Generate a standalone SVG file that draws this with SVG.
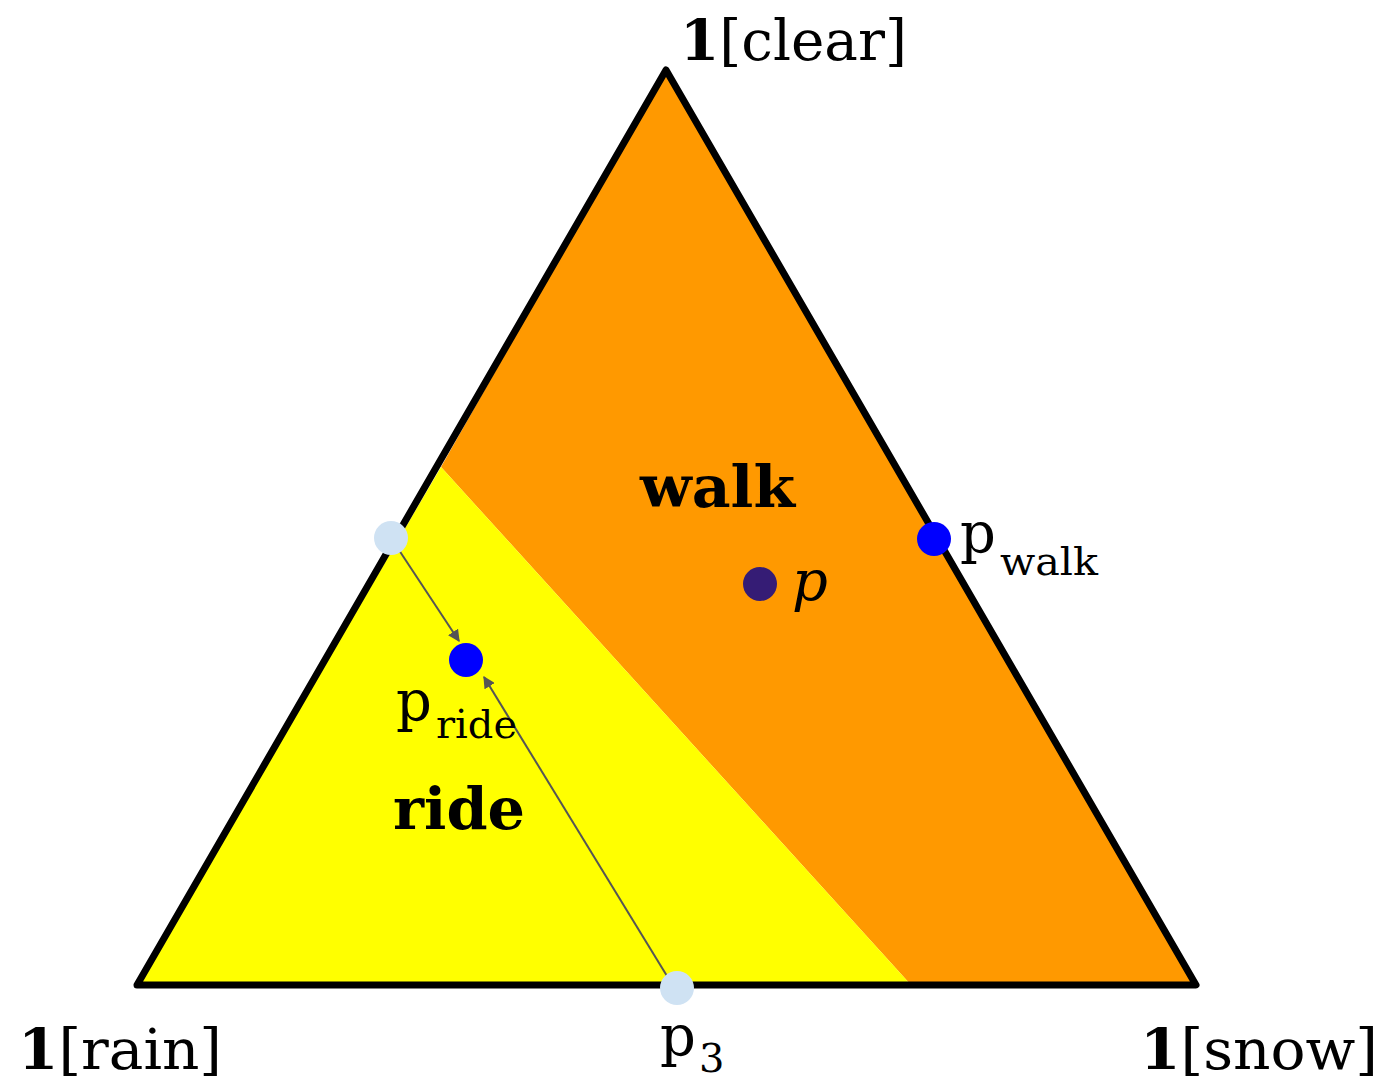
<svg xmlns="http://www.w3.org/2000/svg" width="1386" height="1084" viewBox="0 0 1386 1084">
<style>
text{font-family:"DejaVu Serif","Liberation Serif",serif;fill:#000}
.lab{font-size:56px}
.b{font-weight:bold}
.big{font-size:58px;font-weight:bold}
.sub{font-size:40px}
.pt{stroke:none}
.conn{stroke:#555;stroke-width:2;fill:none;marker-end:url(#ah)}
</style>
<defs>
<marker id="ah" viewBox="0 0 10 10" refX="9" refY="5" markerWidth="6" markerHeight="6" orient="auto" markerUnits="strokeWidth">
<path d="M0,0 L10,5 L0,10 z" fill="#555"/>
</marker>
</defs>
<g id="regions">
<polygon id="walk-region" points="666,70 1196,985 911,985 441,467" fill="#ff9900"/>
<polygon id="ride-region" points="441,467 911,985 137,985" fill="#ffff00"/>
</g>
<g id="simplex">
<polygon points="666,70 1196,985 137,985" fill="none" stroke="#000" stroke-width="7" stroke-linejoin="round"/>
</g>
<g id="connectors">
<line class="conn" x1="393" y1="541" x2="459" y2="641"/>
<line class="conn" x1="667" y1="976" x2="484" y2="677"/>
</g>
<g id="node-clear"><text class="lab" x="680" y="60" textLength="227" lengthAdjust="spacingAndGlyphs"><tspan class="b">1</tspan>[clear]</text></g>
<g id="node-rain"><text class="lab" x="18" y="1069" textLength="204" lengthAdjust="spacingAndGlyphs"><tspan class="b">1</tspan>[rain]</text></g>
<g id="node-snow"><text class="lab" x="1140" y="1069" textLength="238" lengthAdjust="spacingAndGlyphs"><tspan class="b">1</tspan>[snow]</text></g>
<g id="label-walk"><text class="big" x="640" y="507" textLength="155" lengthAdjust="spacingAndGlyphs">walk</text></g>
<g id="label-ride"><text class="big" x="393" y="829" textLength="132" lengthAdjust="spacingAndGlyphs">ride</text></g>
<g id="node-p">
<circle class="pt" cx="760" cy="584" r="17" fill="#351c75"/>
<text class="lab" x="792" y="600" font-style="italic">p</text>
</g>
<g id="node-pwalk">
<circle class="pt" cx="934" cy="539" r="17" fill="#0000ff"/>
<text class="lab" x="960" y="552">p</text><text class="sub" x="1000" y="575" textLength="98" lengthAdjust="spacingAndGlyphs">walk</text>
</g>
<g id="node-pride">
<circle class="pt" cx="466" cy="660" r="17" fill="#0000ff"/>
<text class="lab" x="396" y="720">p</text><text class="sub" x="436" y="738" textLength="81" lengthAdjust="spacingAndGlyphs">ride</text>
</g>
<g id="node-p3">
<circle class="pt" cx="677" cy="988" r="17" fill="#cfe2f3"/>
<text class="lab" x="660" y="1055">p</text><text class="sub" x="699" y="1072">3</text>
</g>
<g id="node-pleft">
<circle class="pt" cx="391" cy="538" r="17" fill="#cfe2f3"/>
</g>
</svg>
